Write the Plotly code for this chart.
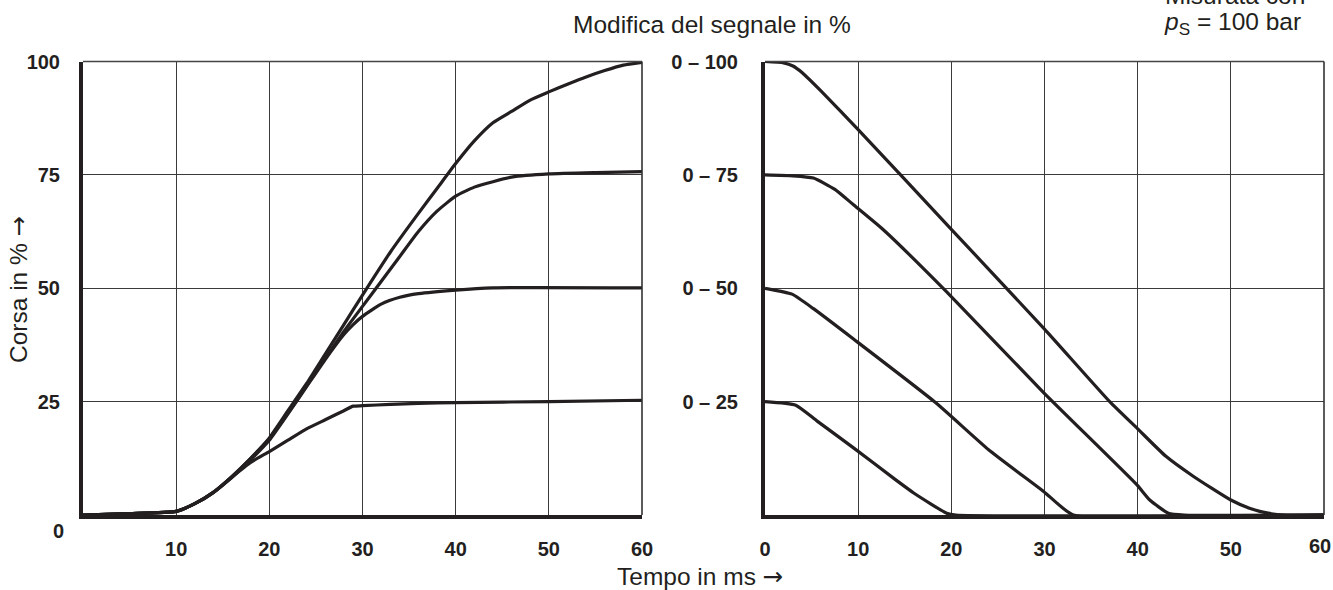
import plotly.graph_objects as go

# ---------------- data ----------------
# Left panel: stroke (%) vs time (ms) for set-point steps 0->25/50/75/100 %
rise100_t = [0, 5, 10, 12, 14, 16, 18, 20, 22, 24, 26, 28, 30, 33, 36, 38, 40, 42, 44, 46, 48, 50, 52, 54, 56, 58, 60]
rise100_s = [0, 0.3, 0.8, 2.5, 5, 8.5, 12.5, 17, 23, 29, 35.5, 42, 48.5, 58, 66.5, 72, 77.5, 82.5, 86.5, 89, 91.5, 93.3, 95, 96.6, 98, 99.2, 99.8]

rise75_t = [0, 5, 10, 12, 14, 16, 18, 20, 22, 24, 26, 28, 30, 32, 34, 36, 38, 40, 42, 44, 46, 50, 55, 60]
rise75_s = [0, 0.3, 0.8, 2.5, 5, 8.5, 12.5, 16.8, 22.5, 28.5, 34.5, 40.5, 46, 51.5, 57, 62.5, 67, 70.3, 72.3, 73.5, 74.5, 75.2, 75.5, 75.7]

rise50_t = [0, 5, 10, 12, 14, 16, 18, 20, 22, 24, 26, 28, 29, 30, 32, 34, 36, 40, 44, 60]
rise50_s = [0, 0.3, 0.8, 2.5, 5, 8.3, 12.2, 16.5, 22.3, 28.3, 34.3, 39.8, 42, 43.8, 46.5, 48, 48.8, 49.6, 50.1, 50.1]

rise25_t = [0, 5, 10, 12, 14, 16, 18, 20, 22, 24, 26, 28, 29, 30, 33, 36, 40, 50, 60]
rise25_s = [0, 0.3, 0.8, 2.5, 5, 8.4, 11.6, 14, 16.5, 19, 21, 23, 24, 24.1, 24.4, 24.6, 24.8, 25, 25.3]

# Right panel: stroke vs time for steps 25/50/75/100 % -> 0
fall100_t = [0, 2, 3, 4, 6, 10, 20, 30, 37, 40, 43, 46, 50, 52, 54, 56, 60]
fall100_s = [100, 99.7, 99, 97.5, 93.5, 85, 63, 41, 25, 19, 13, 8.5, 3.3, 1.5, 0.4, 0, 0]

fall75_t = [0, 3, 5.2, 7.5, 9.5, 12.7, 19.5, 29.9, 39.9, 41.3, 43.3, 45, 60]
fall75_s = [75, 74.8, 74.3, 71.8, 68.4, 62.9, 49.2, 27, 6.7, 3.3, 0.4, 0, 0]

fall50_t = [0, 2.9, 5.2, 9.5, 18.3, 24, 29.9, 33.1, 60]
fall50_s = [50, 48.7, 45.5, 38.8, 24.8, 14.4, 5.2, 0, 0]

fall25_t = [0, 3.3, 5.6, 9.5, 14, 16, 19.5, 20.5, 60]
fall25_s = [25, 24.2, 20.7, 14.8, 7.8, 4.8, 0.4, 0, 0]

x_ticks_left = [10, 20, 30, 40, 50, 60]
y_ticks_left = [25, 50, 75, 100]
y_ticks_left_text = ["25", "50", "75", "100"]
x_ticks_right = [0, 10, 20, 30, 40, 50]
x_last_right = 60
y_ticks_right = [25, 50, 75, 100]
y_ticks_right_text = ["0 – 25", "0 – 50", "0 – 75", "0 – 100"]

# ---------------- style ----------------
INK = "#231f20"
GRID = "#3a3a3a"
TICKFONT = dict(family="Liberation Sans, Arial, Helvetica, sans-serif",
                size=20, color=INK, weight="bold")
TXTFONT = dict(family="Liberation Sans, Arial, Helvetica, sans-serif", size=24.5, color=INK)
ARROW = "<span style='font-family:DejaVu Sans'>→</span>"

W, H = 1333, 590
L_X0, L_X1 = 83, 642
R_X0, R_X1 = 765, 1324
Y_TOP, Y_BOT = 61.5, 515

fig = go.Figure()

line = dict(color=INK, width=3.2, shape="spline", smoothing=0.5)
for t, s in [(rise100_t, rise100_s), (rise75_t, rise75_s), (rise50_t, rise50_s), (rise25_t, rise25_s)]:
    fig.add_trace(go.Scatter(x=t, y=s, mode="lines", line=line, xaxis="x", yaxis="y",
                             showlegend=False, hoverinfo="skip"))
for t, s in [(fall100_t, fall100_s), (fall75_t, fall75_s), (fall50_t, fall50_s), (fall25_t, fall25_s)]:
    fig.add_trace(go.Scatter(x=t, y=s, mode="lines", line=line, xaxis="x2", yaxis="y2",
                             showlegend=False, hoverinfo="skip"))

ydom = [(H - Y_BOT) / H, (H - Y_TOP) / H]
common_x = dict(range=[0, 60], showgrid=True, gridcolor=GRID, gridwidth=1.2,
                showline=True, linecolor=INK, linewidth=4, ticks="", zeroline=False,
                tickfont=TICKFONT, ticklabelstandoff=13, fixedrange=True, automargin=False)
common_y = dict(range=[0, 100], showgrid=True, gridcolor=GRID, gridwidth=1.2,
                showline=True, linecolor=INK, linewidth=4, ticks="", zeroline=False,
                tickfont=TICKFONT, fixedrange=True, automargin=False)

fig.update_layout(
    template="none",
    width=W, height=H, autosize=False,
    margin=dict(l=0, r=0, t=0, b=0, pad=0),
    paper_bgcolor="white", plot_bgcolor="white",
    xaxis=dict(common_x, domain=[L_X0 / W, L_X1 / W], anchor="y",
               tickmode="array", tickvals=x_ticks_left),
    yaxis=dict(common_y, domain=ydom, anchor="x",
               tickmode="array", tickvals=y_ticks_left, ticktext=y_ticks_left_text,
               ticklabelstandoff=15),
    xaxis2=dict(common_x, domain=[R_X0 / W, R_X1 / W], anchor="y2",
                tickmode="array", tickvals=x_ticks_right),
    yaxis2=dict(common_y, domain=ydom, anchor="x2",
                tickmode="array", tickvals=y_ticks_right, ticktext=y_ticks_right_text,
                ticklabelstandoff=19),
)

# thin top and right frame lines
for xr, yr in [("x domain", "y domain"), ("x2 domain", "y2 domain")]:
    fig.add_shape(type="line", xref=xr, yref=yr, x0=0, x1=1, y0=1, y1=1,
                  line=dict(color="#444444", width=1.6))
    fig.add_shape(type="line", xref=xr, yref=yr, x0=1, x1=1, y0=0, y1=1,
                  line=dict(color="#333333", width=1.6))

def px(x):
    return x / W

def py(y):
    return (H - y) / H

# last tick label of the right panel (would be dropped at the page edge otherwise)
fig.add_annotation(x=x_last_right, y=py(546), xref="x2", yref="paper", text=str(x_last_right),
                   showarrow=False, font=TICKFONT, xanchor="center", yanchor="middle", xshift=-4)
fig.add_annotation(x=px(58), y=py(531), xref="paper", yref="paper", text="0",
                   showarrow=False, font=TICKFONT, xanchor="center", yanchor="middle")
fig.add_annotation(x=px(712), y=py(24), xref="paper", yref="paper",
                   text="Modifica del segnale in %", showarrow=False, font=TXTFONT,
                   xanchor="center", yanchor="middle")
fig.add_annotation(x=px(1307), y=py(-5), xref="paper", yref="paper",
                   text="Misurata con", showarrow=False, font=TXTFONT,
                   xanchor="right", yanchor="middle")
fig.add_annotation(x=px(1303), y=py(23), xref="paper", yref="paper",
                   text="<i>p</i><sub>S</sub> = 100 bar", showarrow=False, font=TXTFONT,
                   xanchor="right", yanchor="middle")
fig.add_annotation(x=px(18), y=py(290), xref="paper", yref="paper",
                   text="Corsa in % " + ARROW, showarrow=False, font=TXTFONT, textangle=-90,
                   xanchor="center", yanchor="middle")
fig.add_annotation(x=px(700), y=py(576), xref="paper", yref="paper",
                   text="Tempo in ms " + ARROW, showarrow=False, font=TXTFONT,
                   xanchor="center", yanchor="middle")

fig.write_html("out.html",
               config={"displayModeBar": False},
               post_script="document.body.style.margin='0';document.body.style.overflow='hidden';")
